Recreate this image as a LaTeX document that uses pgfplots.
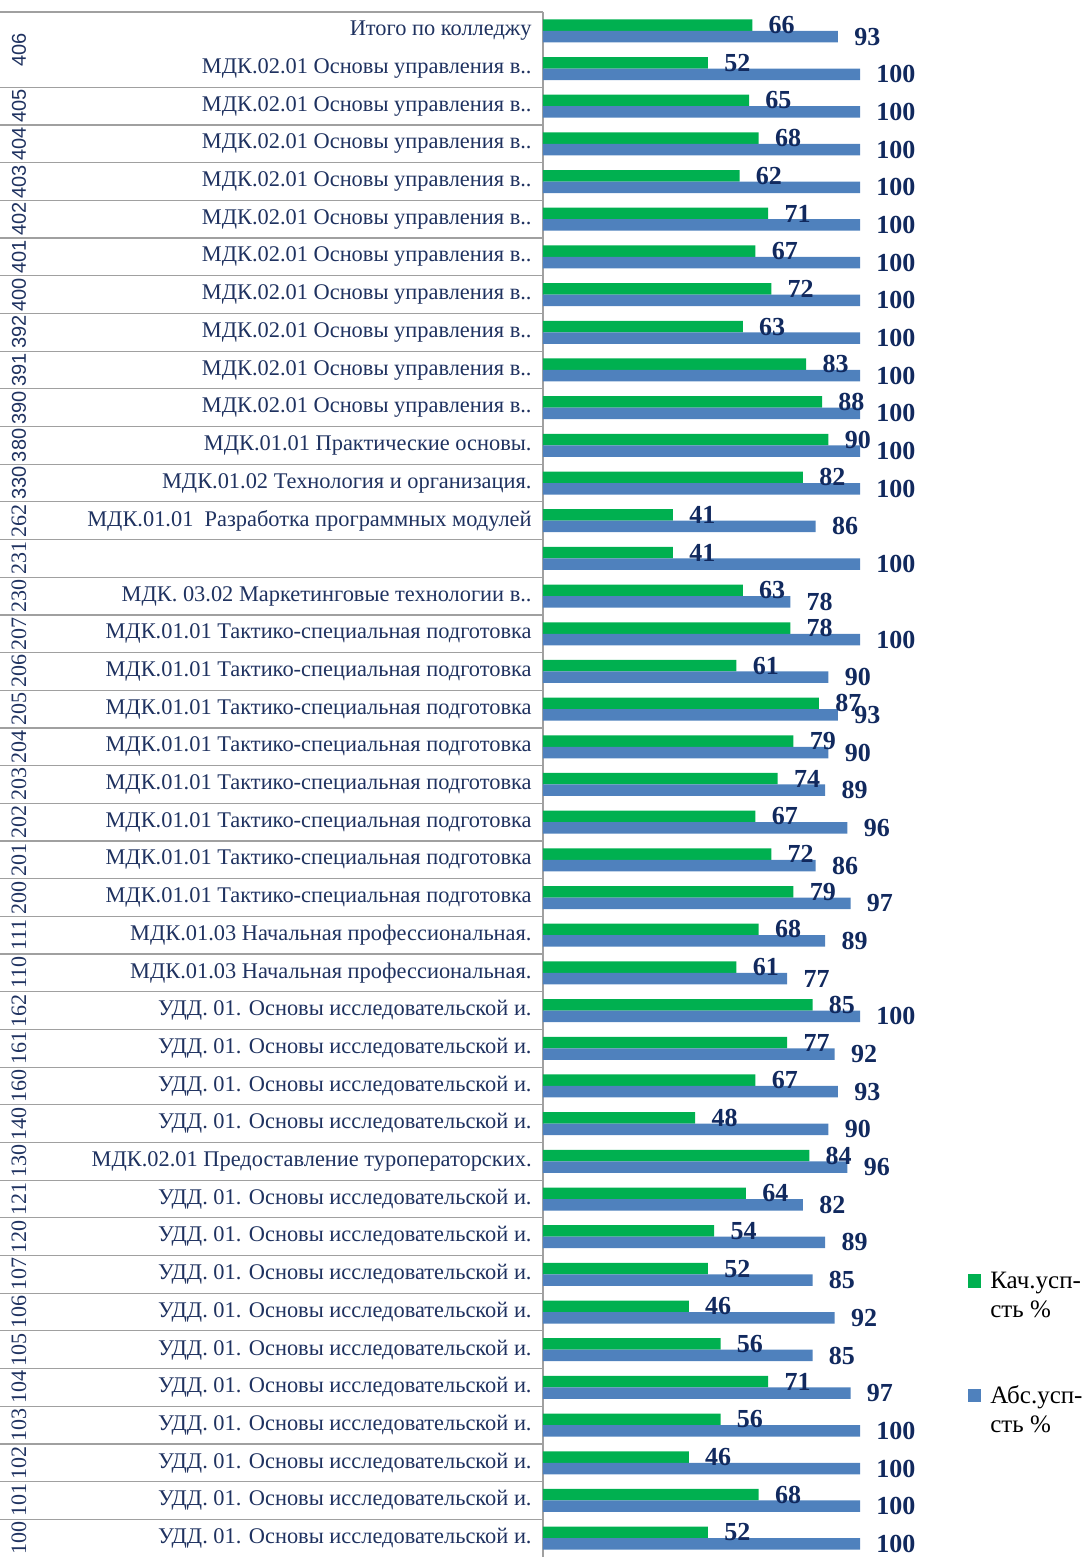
\documentclass[border=0pt]{standalone}
\usepackage{pgfplots}
\pgfplotsset{compat=1.18}
\usepackage{pgfplotstable}
\usepackage{fontspec}
\setmainfont{Liberation Serif}
\newfontfamily\numsans{Liberation Sans}
\definecolor{kach}{RGB}{0,176,80}
\definecolor{abs}{RGB}{79,129,189}
\definecolor{navy}{RGB}{17,41,94}
\definecolor{cattext}{RGB}{31,50,96}
\definecolor{sepgray}{RGB}{160,160,160}

% k = row from the bottom, g = Кач.усп-сть %, b = Абс.усп-сть %
\pgfplotstableread{
k  g   b
40 66  93
39 52  100
38 65  100
37 68  100
36 62  100
35 71  100
34 67  100
33 72  100
32 63  100
31 83  100
30 88  100
29 90  100
28 82  100
27 41  86
26 41  100
25 63  78
24 78  100
23 61  90
22 87  93
21 79  90
20 74  89
19 67  96
18 72  86
17 79  97
16 68  89
15 61  77
14 85  100
13 77  92
12 67  93
11 48  90
10 84  96
9  64  82
8  54  89
7  52  85
6  46  92
5  56  85
4  71  97
3  56  100
2  46  100
1  68  100
0  52  100
}\results

\newcommand\udd{УДД. 01. Основы исследовательской и.}
\newcommand\upr{МДК.02.01 Основы управления в..}
\newcommand\takt{МДК.01.01 Тактико-специальная подготовка\hspace{6pt}}
\newcommand\nach{МДК.01.03 Начальная профессиональная.}

\tikzset{
  grpsans/.style={rotate=90, font=\numsans\fontsize{10}{10}\selectfont, text=cattext, inner sep=0pt},
  grpserif/.style={rotate=90, font=\fontsize{11}{11}\selectfont, text=cattext, inner sep=0pt},
}

\begin{document}
\begin{tikzpicture}
\begin{axis}[
    scale only axis,
    width=273pt, height=772.5pt,
    xbar, bar width=5.75pt,
    xmin=0, xmax=172.2,
    ymin=-0.5, ymax=40.5,
    axis y line*=left,
    axis x line=none,
    y axis line style={draw=sepgray, line width=0.6pt, -},
    ytick={0,...,40},
    major tick length=0pt,
    yticklabels={\udd,\udd,\udd,\udd,\udd,\udd,\udd,\udd,\udd,\udd,
      МДК.02.01 Предоставление туроператорских.,
      \udd,\udd,\udd,\udd,\nach,\nach,
      \takt,\takt,\takt,\takt,\takt,\takt,\takt,\takt,
      МДК. 03.02 Маркетинговые технологии в..,
      {},
      МДК.01.01\ \ Разработка программных модулей\hspace{6pt},
      МДК.01.02 Технология и организация.,
      МДК.01.01 Практические основы.,
      \upr,\upr,\upr,\upr,\upr,\upr,\upr,\upr,\upr,\upr,
      Итого по колледжу\hspace{6pt}},
    yticklabel style={font=\fontsize{11.2}{12}\selectfont, text=cattext,
      inner sep=0pt, xshift=-5.5pt},
    /pgf/number format/assume math mode=true,
    nodes near coords,
    every node near coord/.append style={font=\bfseries\fontsize{13}{14}\selectfont,
      text=navy, anchor=west, inner sep=0pt, xshift=8pt},
    legend style={at={(0.778,0.1896)}, anchor=north west, draw=none, fill=none,
      inner sep=0pt, font=\fontsize{12.5}{14.5}\selectfont, row sep=41.5pt,
      cells={anchor=base west},
      /tikz/every odd column/.append style={column sep=2.5pt}},
    legend image code/.code={\fill[#1] (0pt,0.6pt) rectangle (6.6pt,7.2pt);},
    clip=false,
]
\addplot[fill=kach, draw=none, bar shift=2.875pt] table[x=g, y=k]{\results};
\addlegendentry{\begin{tabular}[t]{@{}l@{}}Кач.усп-\\сть \%\end{tabular}}
\addplot[fill=abs, draw=none, bar shift=-2.875pt] table[x=b, y=k]{\results};
\addlegendentry{\begin{tabular}[t]{@{}l@{}}Абс.усп-\\сть \%\end{tabular}}

% table lines of the category column
\draw[sepgray, line width=0.6pt] (axis cs:-171.3,40.5) -- (axis cs:0,40.5);
\pgfplotsinvokeforeach{0,...,38}{
  \draw[sepgray, line width=0.6pt] (axis cs:-171.3,#1.5) -- (axis cs:0,#1.5);
}
% group numbers
\pgfplotsforeachungrouped \k/\t in {39.5/406,38/405,37/404,36/403,35/402,34/401,
    33/400,32/392,31/391,30/390,29/380,28/330}{
  \edef\temp{\noexpand\node[grpsans] at (axis cs:-165.3,\k) {\t};}
  \temp
}
\pgfplotsforeachungrouped \k/\t in {27/262,26/231,25/230,24/207,23/206,22/205,
    21/204,20/203,19/202,18/201,17/200,16/111,15/110,14/162,13/161,12/160,
    11/140,10/130,9/121,8/120,7/107,6/106,5/105,4/104,3/103,2/102,1/101,0/100}{
  \edef\temp{\noexpand\node[grpserif] at (axis cs:-165.3,\k) {\t};}
  \temp
}
\end{axis}
\pgfresetboundingbox
\path[use as bounding box] (-271.5pt,0pt) rectangle (273pt,778.5pt);
\end{tikzpicture}
\end{document}
